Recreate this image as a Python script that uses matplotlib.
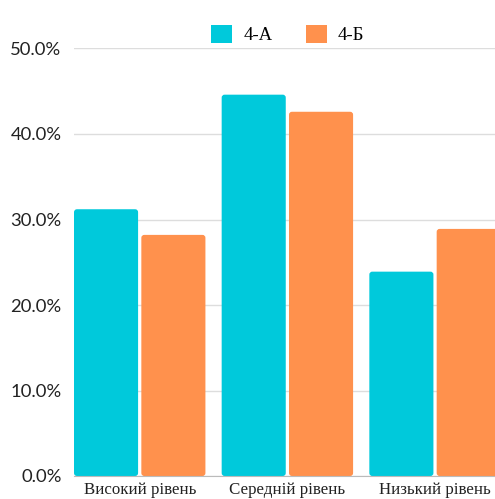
import numpy as np
import matplotlib.pyplot as plt
from matplotlib.patches import FancyBboxPatch, Patch
from matplotlib.ticker import FuncFormatter

# data
categories = ["Високий рівень", "Середній рівень", "Низький рівень"]
class_a = [31.2, 44.6, 23.9]
class_b = [28.2, 42.6, 28.9]
series_names = ["4-А", "4-Б"]
colors = ["#00C9DB", "#FF914D"]

fig = plt.figure(figsize=(4.95, 4.99), dpi=100)
ax = fig.add_axes([74 / 495, 23 / 499, 1 - 74 / 495, 427.5 / 499])

x = np.arange(len(categories))
w = 0.434
off = 0.228
bars_a = ax.bar(x - off, class_a, w, color=colors[0], zorder=3)
bars_b = ax.bar(x + off, class_b, w, color=colors[1], zorder=3)

# swap plain rectangles for slightly rounded ones
for bars in (bars_a, bars_b):
    for r in bars:
        fb = FancyBboxPatch((r.get_x(), r.get_y()), r.get_width(), r.get_height(),
                            boxstyle="round,pad=0,rounding_size=0.02",
                            mutation_aspect=17.2, facecolor=r.get_facecolor(),
                            edgecolor="none", zorder=3)
        r.set_visible(False)
        ax.add_patch(fb)

ax.set_xlim(-0.445, 2.406)
ax.set_ylim(0, 50)
ax.set_yticks([0, 10, 20, 30, 40, 50])
ax.yaxis.set_major_formatter(FuncFormatter(lambda v, p: f"{v:.1f}%"))
ax.set_xticks(x)
ax.set_xticklabels(categories, family="Liberation Serif", fontsize=12.2, color="#222222")
for t in ax.get_yticklabels():
    t.set_family("Lato")
    t.set_fontsize(13.3)
    t.set_color("#222222")
ax.tick_params(axis="y", length=0, pad=9)
ax.tick_params(axis="x", length=0, pad=4.5)

ax.grid(axis="y", color="#dddddd", linewidth=1, zorder=0)
for s in ["top", "right", "left"]:
    ax.spines[s].set_visible(False)
ax.spines["bottom"].set_color("#bbbbbb")
ax.spines["bottom"].set_zorder(4)

handles = [Patch(facecolor=c, edgecolor="none") for c in colors]
fig.legend(handles, series_names, loc="upper center", bbox_to_anchor=(288 / 495, 1 - 8 / 499),
           ncol=2, frameon=False, prop={"family": "Liberation Serif", "size": 13.5},
           handlelength=1.1, handleheight=1.1, handletextpad=0.6, columnspacing=1.8)

fig.savefig("out.png", dpi=100)
